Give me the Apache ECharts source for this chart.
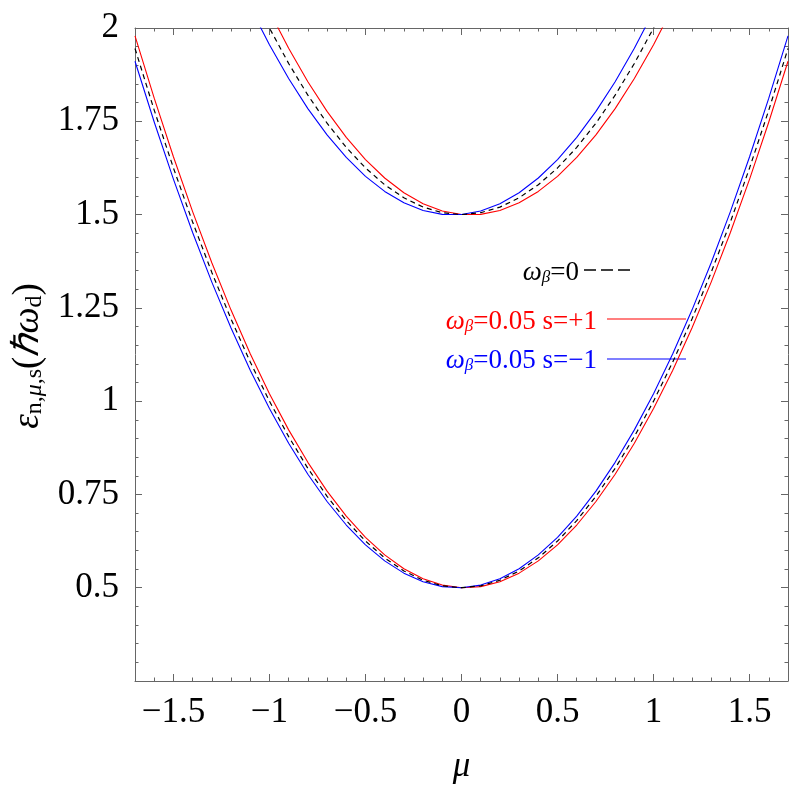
<!DOCTYPE html>
<html>
<head>
<meta charset="utf-8">
<script src="https://cdn.jsdelivr.net/npm/echarts@6/dist/echarts.min.js"></script>
<style>
html,body{margin:0;padding:0;background:#fff;}
#chart{width:789px;height:789px;}
</style>
</head>
<body>
<div id="chart"></div>
<script>
// ---- data ----
var muLower = [-1.7,-1.6,-1.5,-1.4,-1.3,-1.2,-1.1,-1.0,-0.9,-0.8,-0.7,-0.6,-0.5,-0.4,-0.3,-0.2,-0.1,0,0.1,0.2,0.3,0.4,0.5,0.6,0.7,0.8,0.9,1.0,1.1,1.2,1.3,1.4,1.5,1.6,1.7];
var lowerOmega0 = [1.945,1.78,1.625,1.48,1.345,1.22,1.105,1.0,0.905,0.82,0.745,0.68,0.625,0.58,0.545,0.52,0.505,0.5,0.505,0.52,0.545,0.58,0.625,0.68,0.745,0.82,0.905,1.0,1.105,1.22,1.345,1.48,1.625,1.78,1.945];
var lowerSplus = [1.979,1.812,1.655,1.508,1.371,1.244,1.127,1.02,0.923,0.836,0.759,0.692,0.635,0.588,0.551,0.524,0.507,0.5,0.503,0.516,0.539,0.572,0.615,0.668,0.731,0.804,0.887,0.98,1.083,1.196,1.319,1.452,1.595,1.748,1.911];
var lowerSminus = [1.911,1.748,1.595,1.452,1.319,1.196,1.083,0.98,0.887,0.804,0.731,0.668,0.615,0.572,0.539,0.516,0.503,0.5,0.507,0.524,0.551,0.588,0.635,0.692,0.759,0.836,0.923,1.02,1.127,1.244,1.371,1.508,1.655,1.812,1.979];

var muUpper = [-1.1,-1.0,-0.9,-0.8,-0.7,-0.6,-0.5,-0.4,-0.3,-0.2,-0.1,0,0.1,0.2,0.3,0.4,0.5,0.6,0.7,0.8,0.9,1.0,1.1];
var upperOmega0 = [2.105,2.0,1.905,1.82,1.745,1.68,1.625,1.58,1.545,1.52,1.505,1.5,1.505,1.52,1.545,1.58,1.625,1.68,1.745,1.82,1.905,2.0,2.105];
var upperSplus = [2.1545,2.045,1.9455,1.856,1.7765,1.707,1.6475,1.598,1.5585,1.529,1.5095,1.5,1.5005,1.511,1.5315,1.562,1.6025,1.653,1.7135,1.784,1.8645,1.955,2.0555];
var upperSminus = [2.0555,1.955,1.8645,1.784,1.7135,1.653,1.6025,1.562,1.5315,1.511,1.5005,1.5,1.5095,1.529,1.5585,1.598,1.6475,1.707,1.7765,1.856,1.9455,2.045,2.1545];

var xMajorTicks = [-1.5,-1,-0.5,0,0.5,1,1.5];
var xMinorTicks = [-1.7,-1.6,-1.5,-1.4,-1.3,-1.2,-1.1,-1.0,-0.9,-0.8,-0.7,-0.6,-0.5,-0.4,-0.3,-0.2,-0.1,0,0.1,0.2,0.3,0.4,0.5,0.6,0.7,0.8,0.9,1.0,1.1,1.2,1.3,1.4,1.5,1.6,1.7];
var yMajorTicks = [0.5,0.75,1,1.25,1.5,1.75,2];
var yMinorTicks = [0.25,0.3,0.35,0.4,0.45,0.5,0.55,0.6,0.65,0.7,0.75,0.8,0.85,0.9,0.95,1,1.05,1.1,1.15,1.2,1.25,1.3,1.35,1.4,1.45,1.5,1.55,1.6,1.65,1.7,1.75,1.8,1.85,1.9,1.95,2];

var legendTexts = ['=0', '=0.05 s=+1', '=0.05 s=\u22121'];

function pairs(xs, ys){ return xs.map(function(x,i){ return [x, ys[i]]; }); }
function fmt(v){
  var s = String(+(+v).toFixed(2));
  return v < 0 ? '\u2212' + s.slice(1) : s;
}

var FONT = 'Liberation Serif';
var FRAME = '#666';
var chart = echarts.init(document.getElementById('chart'), null, {renderer:'canvas'});

function xAx(pos, major, showLine){
  return {
    type:'value', min:-1.7, max:1.7, position:pos, gridIndex:0,
    axisLine:{show:showLine, onZero:false, lineStyle:{color:FRAME, width:1}},
    axisTick:{show:true, inside:true, length: major ? 7 : 3.5, customValues: major ? xMajorTicks : xMinorTicks, lineStyle:{color:FRAME, width:1}},
    axisLabel:{show: pos==='bottom' && major, customValues:xMajorTicks, formatter:fmt, fontFamily:FONT, fontSize:35, color:'#000', margin:14},
    splitLine:{show:false}, minorTick:{show:false},
    name: (pos==='bottom' && major) ? '\u03bc' : '',
    nameLocation:'middle', nameGap:68,
    nameTextStyle:{fontFamily:FONT, fontSize:35, fontStyle:'italic', color:'#000'}
  };
}
function yAx(pos, major, showLine){
  return {
    type:'value', min:0.25, max:2, position:pos, gridIndex:0,
    axisLine:{show:showLine, onZero:false, lineStyle:{color:FRAME, width:1}},
    axisTick:{show:true, inside:true, length: major ? 7 : 3.5, customValues: major ? yMajorTicks : yMinorTicks, lineStyle:{color:FRAME, width:1}},
    axisLabel:{show: pos==='left' && major, customValues:yMajorTicks, formatter:fmt, fontFamily:FONT, fontSize:35, color:'#000', margin:16},
    splitLine:{show:false}, minorTick:{show:false}
  };
}

var legendRich = function(color){
  return {
    w:{fontFamily:FONT, fontSize:27, fontStyle:'italic', lineHeight:40, verticalAlign:'bottom', fill:color},
    b:{fontFamily:FONT, fontSize:17, fontStyle:'italic', lineHeight:17, verticalAlign:'bottom', fill:color},
    n:{fontFamily:FONT, fontSize:27, lineHeight:40, verticalAlign:'bottom', fill:color}
  };
};

var option = {
  animation:false,
  backgroundColor:'#fff',
  grid:{left:135, top:28, width:653, height:654, containLabel:false},
  xAxis:[xAx('bottom', true, true), xAx('bottom', false, false), xAx('top', true, true), xAx('top', false, false)],
  yAxis:[yAx('left', true, true), yAx('left', false, false), yAx('right', true, true), yAx('right', false, false)],
  series:[
    {name:'s=+1 lower', type:'line', xAxisIndex:0, yAxisIndex:0, data:pairs(muLower, lowerSplus), showSymbol:false, symbol:'none', lineStyle:{color:'#ff0000', width:1.1}},
    {name:'s=-1 lower', type:'line', xAxisIndex:0, yAxisIndex:0, data:pairs(muLower, lowerSminus), showSymbol:false, symbol:'none', lineStyle:{color:'#0000ff', width:1.1}},
    {name:'0 lower', type:'line', xAxisIndex:0, yAxisIndex:0, data:pairs(muLower, lowerOmega0), showSymbol:false, symbol:'none', lineStyle:{color:'#000', width:1.2, type:[5,4]}},
    {name:'s=+1 upper', type:'line', xAxisIndex:0, yAxisIndex:0, data:pairs(muUpper, upperSplus), showSymbol:false, symbol:'none', lineStyle:{color:'#ff0000', width:1.1}},
    {name:'s=-1 upper', type:'line', xAxisIndex:0, yAxisIndex:0, data:pairs(muUpper, upperSminus), showSymbol:false, symbol:'none', lineStyle:{color:'#0000ff', width:1.1}},
    {name:'0 upper', type:'line', xAxisIndex:0, yAxisIndex:0, data:pairs(muUpper, upperOmega0), showSymbol:false, symbol:'none', lineStyle:{color:'#000', width:1.2, type:[5,4]}}
  ],
  graphic:[
    {type:'text', x:23, y:356, rotation:Math.PI/2, style:{
      text:'{e|\u03b5}{s|n,}{si|\u03bc}{s|,s}{p|(}{i|\u210f\u03c9}{s|d}{p|)}',
      textAlign:'center', textVerticalAlign:'middle',
      rich:{
        e:{fontFamily:FONT, fontSize:37, fontStyle:'italic', lineHeight:48, verticalAlign:'bottom', fill:'#000'},
        i:{fontFamily:FONT, fontSize:37, fontStyle:'italic', lineHeight:48, verticalAlign:'bottom', fill:'#000'},
        p:{fontFamily:FONT, fontSize:37, lineHeight:48, verticalAlign:'bottom', fill:'#000'},
        s:{fontFamily:FONT, fontSize:24, lineHeight:24, verticalAlign:'bottom', fill:'#000'},
        si:{fontFamily:FONT, fontSize:24, fontStyle:'italic', lineHeight:24, verticalAlign:'bottom', fill:'#000'}
      }
    }},
    {type:'text', x:579, y:266, style:{text:'{w|\u03c9}{b|\u03b2}{n|' + legendTexts[0] + '}', textAlign:'right', textVerticalAlign:'middle', rich:legendRich('#000')}},
    {type:'line', shape:{x1:584, y1:270, x2:631, y2:270}, style:{stroke:'#000', lineWidth:1.3, lineDash:[12,5]}},
    {type:'text', x:597, y:315, style:{text:'{w|\u03c9}{b|\u03b2}{n|' + legendTexts[1] + '}', textAlign:'right', textVerticalAlign:'middle', rich:legendRich('#ff0000')}},
    {type:'line', shape:{x1:607, y1:319, x2:686, y2:319}, style:{stroke:'#ff0000', lineWidth:1.2}},
    {type:'text', x:597, y:354, style:{text:'{w|\u03c9}{b|\u03b2}{n|' + legendTexts[2] + '}', textAlign:'right', textVerticalAlign:'middle', rich:legendRich('#0000ff')}},
    {type:'line', shape:{x1:607, y1:359, x2:686, y2:359}, style:{stroke:'#0000ff', lineWidth:1.2}}
  ]
};
chart.setOption(option);
</script>
</body>
</html>
